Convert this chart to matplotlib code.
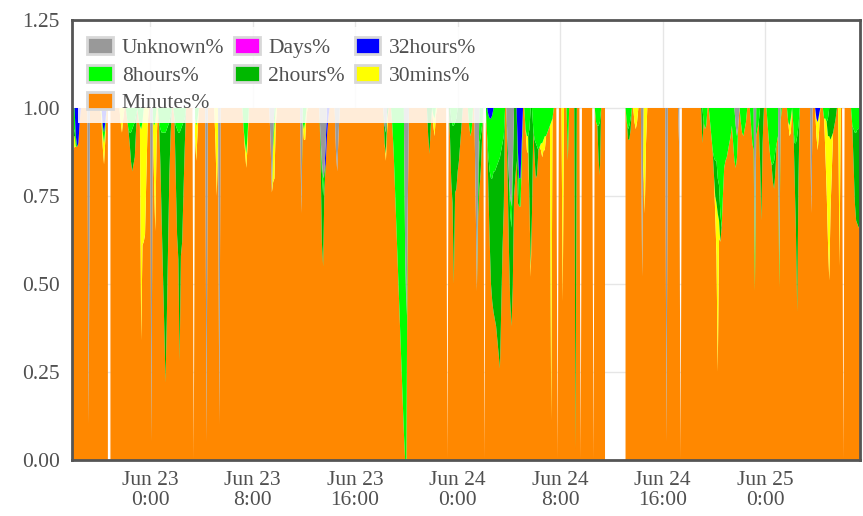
import numpy as np
import matplotlib
matplotlib.use("Agg")
import matplotlib.pyplot as plt
from matplotlib.patches import Patch

# ---------------- data (hours relative to Jun 23 0:00, 6-minute samples) ----------------
START_H = -6.1
END_H = 55.4
STEP_H = 0.1

tick_hours = [0, 8, 16, 24, 32, 40, 48]
tick_labels = ["Jun 23\n0:00", "Jun 23\n8:00", "Jun 23\n16:00", "Jun 24\n0:00",
               "Jun 24\n8:00", "Jun 24\n16:00", "Jun 25\n0:00"]
y_ticks = [0.0, 0.25, 0.5, 0.75, 1.0, 1.25]
y_tick_labels = ["0.00", "0.25", "0.50", "0.75", "1.00", "1.25"]

series_names = ["Unknown%", "Days%", "32hours%", "8hours%", "2hours%", "30mins%", "Minutes%"]
series_colors = {"Unknown%": "#999999", "Days%": "#ff00ff", "32hours%": "#0000ff",
                 "8hours%": "#00ff00", "2hours%": "#00b800", "30mins%": "#ffff00",
                 "Minutes%": "#ff8800"}

# runs: (start hour, consecutive sample values)
unknown_runs = [
    (-4.8, [0.9]), (0.1, [0.95]), (4.4, [0.95]), (5.4, [0.9]),
    (9.4, [0.1, 0.24, 0.08]), (11.8, [0.3]),
    (13.3, [0.08, 0.15, 0.2, 0.18, 0.1]), (14.5, [0.12, 0.18, 0.08]),
    (18.3, [0.05, 0.07]), (19.9, [0.4, 0.59, 0.3]),
    (25.4, [0.25, 0.52, 0.2]), (27.9, [0.1, 0.2, 0.25, 0.28, 0.15]),
    (38.4, [0.48]), (40.3, [0.95]), (41.3, [0.13]),
    (45.7, [0.05, 0.08, 0.05]), (47.2, [0.42]), (49.1, [0.45]), (51.6, [0.3]),
]
days_runs = []
h32_runs = [
    (-5.8, [0.08, 0.11, 0.1, 0.04]), (-3.7, [0.05, 0.07, 0.04]),
    (13.7, [0.06, 0.08, 0.03]), (26.4, [0.02, 0.03, 0.03, 0.02]),
    (28.7, [0.12, 0.2, 0.2, 0.1]), (52.0, [0.03, 0.04, 0.02]),
]
h8_runs = [
    (-6.1, [0.08, 0.08, 0.06, 0.03]), (-3.7, [0.02, 0.03, 0.02]),
    (-1.8, [0.03, 0.06, 0.07, 0.07, 0.06, 0.05, 0.04, 0.02]),
    (-0.9, [0.03, 0.05, 0.06, 0.04]), (0.2, [0.03, 0.05, 0.04]),
    (0.7, [0.04, 0.06, 0.07, 0.07, 0.07, 0.07, 0.06, 0.05, 0.04, 0.02]),
    (1.9, [0.03, 0.05, 0.06, 0.07, 0.07, 0.06, 0.05, 0.04, 0.03]),
    (3.5, [0.03, 0.05, 0.03]), (7.3, [0.06, 0.1, 0.13, 0.08]),
    (9.6, [0.03, 0.05]), (11.9, [0.04, 0.06, 0.04]), (13.4, [0.03, 0.05]),
    (18.9, [0.05, 0.12, 0.22, 0.32, 0.42, 0.52, 0.62, 0.72, 0.82, 0.92, 0.6, 0.41]),
    (22.1, [0.02, 0.03]), (23.5, [0.03, 0.05, 0.05, 0.04, 0.03]),
    (24.9, [0.05, 0.08, 0.06]), (25.6, [0.06, 0.1, 0.08, 0.05]),
    (26.3, [0.08, 0.12, 0.15, 0.17, 0.18, 0.18, 0.18, 0.17, 0.16, 0.15, 0.14, 0.12, 0.1, 0.08]),
    (28.1, [0.05, 0.06, 0.06]), (28.7, [0.05, 0.08, 0.08, 0.06]),
    (29.3, [0.06, 0.08, 0.08, 0.06]),
    (29.9, [0.06, 0.09, 0.1, 0.11, 0.12, 0.11, 0.1, 0.1, 0.09, 0.08, 0.08, 0.07, 0.06, 0.05, 0.04, 0.03]),
    (32.6, [0.15]), (34.8, [0.04, 0.05, 0.05, 0.04]),
    (37.2, [0.04, 0.06, 0.05, 0.03]), (43.2, [0.04, 0.06, 0.05]),
    (43.7, [0.04, 0.08, 0.12, 0.14, 0.15, 0.15, 0.2, 0.22, 0.3, 0.34, 0.25, 0.17, 0.15, 0.14, 0.12, 0.1, 0.08, 0.05]),
    (45.5, [0.1, 0.15, 0.12, 0.06]), (46.1, [0.04, 0.07, 0.08, 0.06, 0.04]),
    (46.9, [0.05, 0.1, 0.12, 0.1, 0.08, 0.06, 0.04]),
    (48.2, [0.05, 0.1, 0.14, 0.16, 0.16, 0.15, 0.12, 0.1, 0.08, 0.06, 0.04]),
    (49.8, [0.04, 0.05, 0.03]), (50.2, [0.05, 0.1, 0.1, 0.08, 0.05]),
    (52.6, [0.03, 0.03, 0.04, 0.03]), (54.8, [0.05, 0.06, 0.07, 0.07, 0.06, 0.06, 0.05]),
]
h2_runs = [
    (-5.9, [0.02]), (-1.6, [0.03, 0.08, 0.12, 0.11, 0.1, 0.04]),
    (0.8, [0.1, 0.25, 0.4, 0.55, 0.71, 0.54, 0.34, 0.15, 0.05]),
    (2.0, [0.15, 0.3, 0.36, 0.65, 0.36, 0.33, 0.2, 0.08]),
    (13.3, [0.05, 0.2, 0.2, 0.05]), (18.3, [0.05, 0.06, 0.03]),
    (21.7, [0.08, 0.13, 0.05]),
    (23.4, [0.08, 0.18, 0.22, 0.45, 0.2, 0.2, 0.18, 0.15, 0.1, 0.05]),
    (25.6, [0.05, 0.13, 0.1, 0.04]),
    (26.4, [0.1, 0.2, 0.3, 0.35, 0.4, 0.42, 0.45, 0.5, 0.55, 0.6, 0.45, 0.3, 0.2]),
    (27.9, [0.1, 0.2, 0.25, 0.28, 0.3, 0.25]), (28.5, [0.2, 0.15, 0.1]),
    (29.6, [0.2, 0.45, 0.3]), (30.0, [0.05, 0.1, 0.08]), (33.2, [0.97]),
    (35.0, [0.1, 0.15]), (37.3, [0.03, 0.04, 0.03]), (43.1, [0.1]),
    (44.0, [0.05, 0.1, 0.12, 0.1, 0.1, 0.08]), (47.6, [0.15, 0.32, 0.1]),
    (48.6, [0.05, 0.08, 0.06]), (50.3, [0.1, 0.25, 0.5, 0.15]),
    (52.9, [0.05, 0.08, 0.09, 0.08, 0.07, 0.05, 0.03]),
    (54.9, [0.1, 0.2, 0.25, 0.27, 0.28, 0.28]),
]
m30_runs = [
    (-6.1, [0.03, 0.04, 0.03]), (-3.8, [0.03, 0.04, 0.06, 0.03]),
    (-2.3, [0.04, 0.07, 0.03]), (-0.7, [0.6, 0.35, 0.38, 0.36, 0.2, 0.05]),
    (0.3, [0.15, 0.31, 0.1]), (3.5, [0.05, 0.1, 0.04]), (5.1, [0.1, 0.25, 0.1]),
    (7.4, [0.02, 0.04, 0.03]), (9.6, [0.1, 0.15, 0.05]), (12.0, [0.03, 0.05, 0.02]),
    (18.4, [0.02, 0.03]), (22.1, [0.03, 0.05, 0.02]), (29.4, [0.04, 0.05]),
    (29.7, [0.03]), (30.5, [0.02, 0.04, 0.03]), (30.8, [0.04]), (31.3, [0.85]),
    (32.2, [0.55]), (37.8, [0.04, 0.06, 0.04]), (38.5, [0.15, 0.3, 0.1]),
    (44.1, [0.05, 0.15, 0.45, 0.05]), (49.9, [0.03, 0.04]),
    (52.0, [0.05, 0.08, 0.05]), (52.7, [0.1, 0.2, 0.3, 0.41, 0.2, 0.1]),
    (53.8, [0.45]),
]
# samples with no data (NaN) and samples whose values are all zero
gap_hours = [-3.2]
gap_span = (35.6, 37.0)
zero_hours = [3.4, 23.2, 26.1, 31.8, 33.6, 34.6, 41.4, 54.1]

# ---------------- build arrays ----------------
t = np.round(np.arange(START_H, END_H + STEP_H / 2, STEP_H), 1)
n = len(t)


def idx(h):
    return int(round((h - START_H) / STEP_H))


def build(runs):
    arr = np.zeros(n)
    for h0, vals in runs:
        i0 = idx(h0)
        for k, v in enumerate(vals):
            if 0 <= i0 + k < n:
                arr[i0 + k] = v
    return arr


unknown = build(unknown_runs)
days = build(days_runs)
h32 = build(h32_runs)
h8 = build(h8_runs)
h2 = build(h2_runs)
m30 = build(m30_runs)
minutes = np.clip(1.0 - (unknown + days + h32 + h8 + h2 + m30), 0, 1)

layers = [minutes, m30, h2, h8, h32, days, unknown]
for z in zero_hours:
    for arr in layers:
        arr[idx(z)] = 0.0

mask = np.zeros(n, dtype=bool)
for g in gap_hours:
    mask[idx(g)] = True
mask[idx(gap_span[0]):idx(gap_span[1]) + 1] = True
for arr in layers:
    arr[mask] = np.nan

# ---------------- plot ----------------
plt.rcParams["font.family"] = ["Liberation Serif", "DejaVu Serif"]
fig = plt.figure(figsize=(8.63, 5.16), dpi=100)
ax = fig.add_axes([72 / 863, 1 - 460 / 516, (860 - 72) / 863, (460 - 20) / 516])

stack_names = ["Minutes%", "30mins%", "2hours%", "8hours%", "32hours%", "Days%", "Unknown%"]
ax.stackplot(t, *layers, colors=[series_colors[s] for s in stack_names],
             linewidth=0, edgecolor="face", zorder=2)

ax.set_xlim(START_H, END_H)
ax.set_ylim(0, 1.25)
ax.set_xticks(tick_hours)
ax.set_xticklabels(tick_labels)
ax.set_yticks(y_ticks)
ax.set_yticklabels(y_tick_labels)
for lbl in ax.get_xticklabels():
    lbl.set_linespacing(1.05)
ax.tick_params(axis="both", length=0, labelsize=15.5, colors="#505050")
ax.tick_params(axis="x", pad=8)
ax.tick_params(axis="y", pad=9)
ax.set_axisbelow(True)
ax.grid(True, color="#e6e6e6", linewidth=1, zorder=0)
for sp in ax.spines.values():
    sp.set_color("#555555")
    sp.set_linewidth(2)
    sp.set_zorder(5)

handles = [Patch(facecolor=series_colors[s], edgecolor="#d8d8d8", linewidth=2) for s in series_names]
# column-major order for a row-wise 3-column legend
order = [0, 3, 6, 1, 4, 2, 5]
leg = ax.legend([handles[i] for i in order], [series_names[i] for i in order],
                ncol=3, loc="upper left", bbox_to_anchor=(0.007, 0.983),
                borderaxespad=0, fontsize=15.5, frameon=True, fancybox=False,
                handlelength=1.2, handleheight=0.85, handletextpad=0.4,
                columnspacing=0.45, labelspacing=0.3, borderpad=0.45,
                labelcolor="#505050")
frame = leg.get_frame()
frame.set_facecolor("white")
frame.set_alpha(0.85)
frame.set_edgecolor("none")
leg.set_zorder(10)

fig.savefig("out.png", dpi=100)
